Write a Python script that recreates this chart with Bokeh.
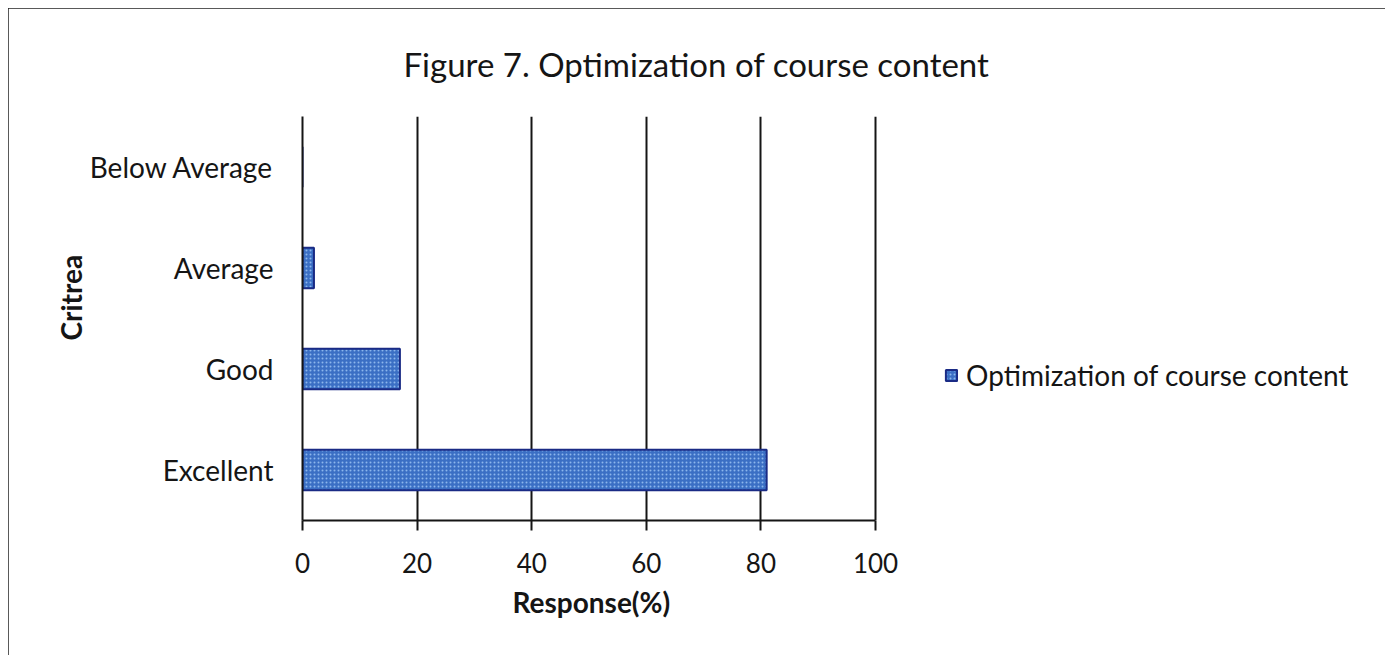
from bokeh.plotting import figure
from bokeh.models import (Range1d, FactorRange, Legend, LegendItem, Title,
                          FixedTicker, ColumnDataSource)
from bokeh.embed import file_html
from bokeh.resources import INLINE

categories = ["Excellent", "Good", "Average", "Below Average"]
values = [81, 17, 2, 0]
series_name = "Optimization of course content"
x_ticks = [0, 20, 40, 60, 80, 100]
title_text = "Figure 7. Optimization of course content"
x_label = "Response(%)"
y_label = "Critrea"

FONT = "Lato"
INK = "#151515"

src = ColumnDataSource(dict(cat=categories, val=values))

# the frame runs to the right edge so the legend can sit inside it;
# the axis and grid are bounded to 0..100
p = figure(width=1377, height=647, output_backend="svg", toolbar_location=None,
           y_range=FactorRange(factors=categories, range_padding=0),
           x_range=Range1d(0, 188.3),
           min_border_left=294, min_border_right=4,
           min_border_top=107, min_border_bottom=135)
p.styles = {"outline": "2px solid #222", "outline-offset": "-2px",
            "margin-left": "8px", "margin-top": "8px"}
p.outline_line_color = None
p.background_fill_color = "white"
p.border_fill_color = "white"

# title
p.title.text = title_text
p.title.align = "left"
p.title.offset = 101
p.title.standoff = 66
p.title.text_font = FONT
p.title.text_font_size = "33px"
p.title.text_font_style = "normal"
p.title.text_color = INK

r = p.hbar(y="cat", right="val", left=0, height=0.4, source=src,
           fill_color="#3b6fc4", line_color="#1a2b85", line_width=2,
           hatch_pattern=".", hatch_color="#8cb6ec", hatch_scale=4, hatch_weight=1)

# axes
p.xaxis.bounds = (x_ticks[0], x_ticks[-1])
p.xaxis.ticker = FixedTicker(ticks=x_ticks)
p.xaxis.major_label_text_font = FONT
p.xaxis.major_label_text_font_size = "26px"
p.xaxis.major_label_text_color = INK
p.xaxis.major_label_standoff = 22
p.xaxis.axis_line_color = INK
p.xaxis.axis_line_width = 2
p.xaxis.major_tick_line_color = INK
p.xaxis.major_tick_line_width = 2
p.xaxis.major_tick_in = 0
p.xaxis.major_tick_out = 10
p.xaxis.minor_tick_line_color = None

p.yaxis.major_label_text_font = FONT
p.yaxis.major_label_text_font_size = "28px"
p.yaxis.major_label_text_color = INK
p.yaxis.major_label_standoff = 23
p.yaxis.axis_line_color = INK
p.yaxis.axis_line_width = 2
p.yaxis.major_tick_line_color = None
p.yaxis.minor_tick_line_color = None

# axis titles placed as titles so they centre on the 0..100 plot area
p.add_layout(Title(text=x_label, align="left", offset=210, standoff=15,
                   text_font=FONT, text_font_size="28px",
                   text_font_style="bold", text_color=INK), "below")
p.add_layout(Title(text=y_label, align="left", offset=180, standoff=-3,
                   text_font=FONT, text_font_size="28px",
                   text_font_style="bold", text_color=INK), "left")

p.xgrid.ticker = FixedTicker(ticks=x_ticks[1:])
p.xgrid.grid_line_color = INK
p.xgrid.grid_line_width = 2
p.ygrid.grid_line_color = None

legend = Legend(items=[LegendItem(label=series_name, renderers=[r])],
                location=(642, 128), padding=0, margin=0,
                glyph_width=14, glyph_height=14, label_standoff=8,
                label_text_font=FONT, label_text_font_size="28px",
                label_text_color=INK, border_line_color=None,
                background_fill_alpha=0)
p.add_layout(legend, "center")

open("out.html", "w").write(file_html(p, INLINE))
